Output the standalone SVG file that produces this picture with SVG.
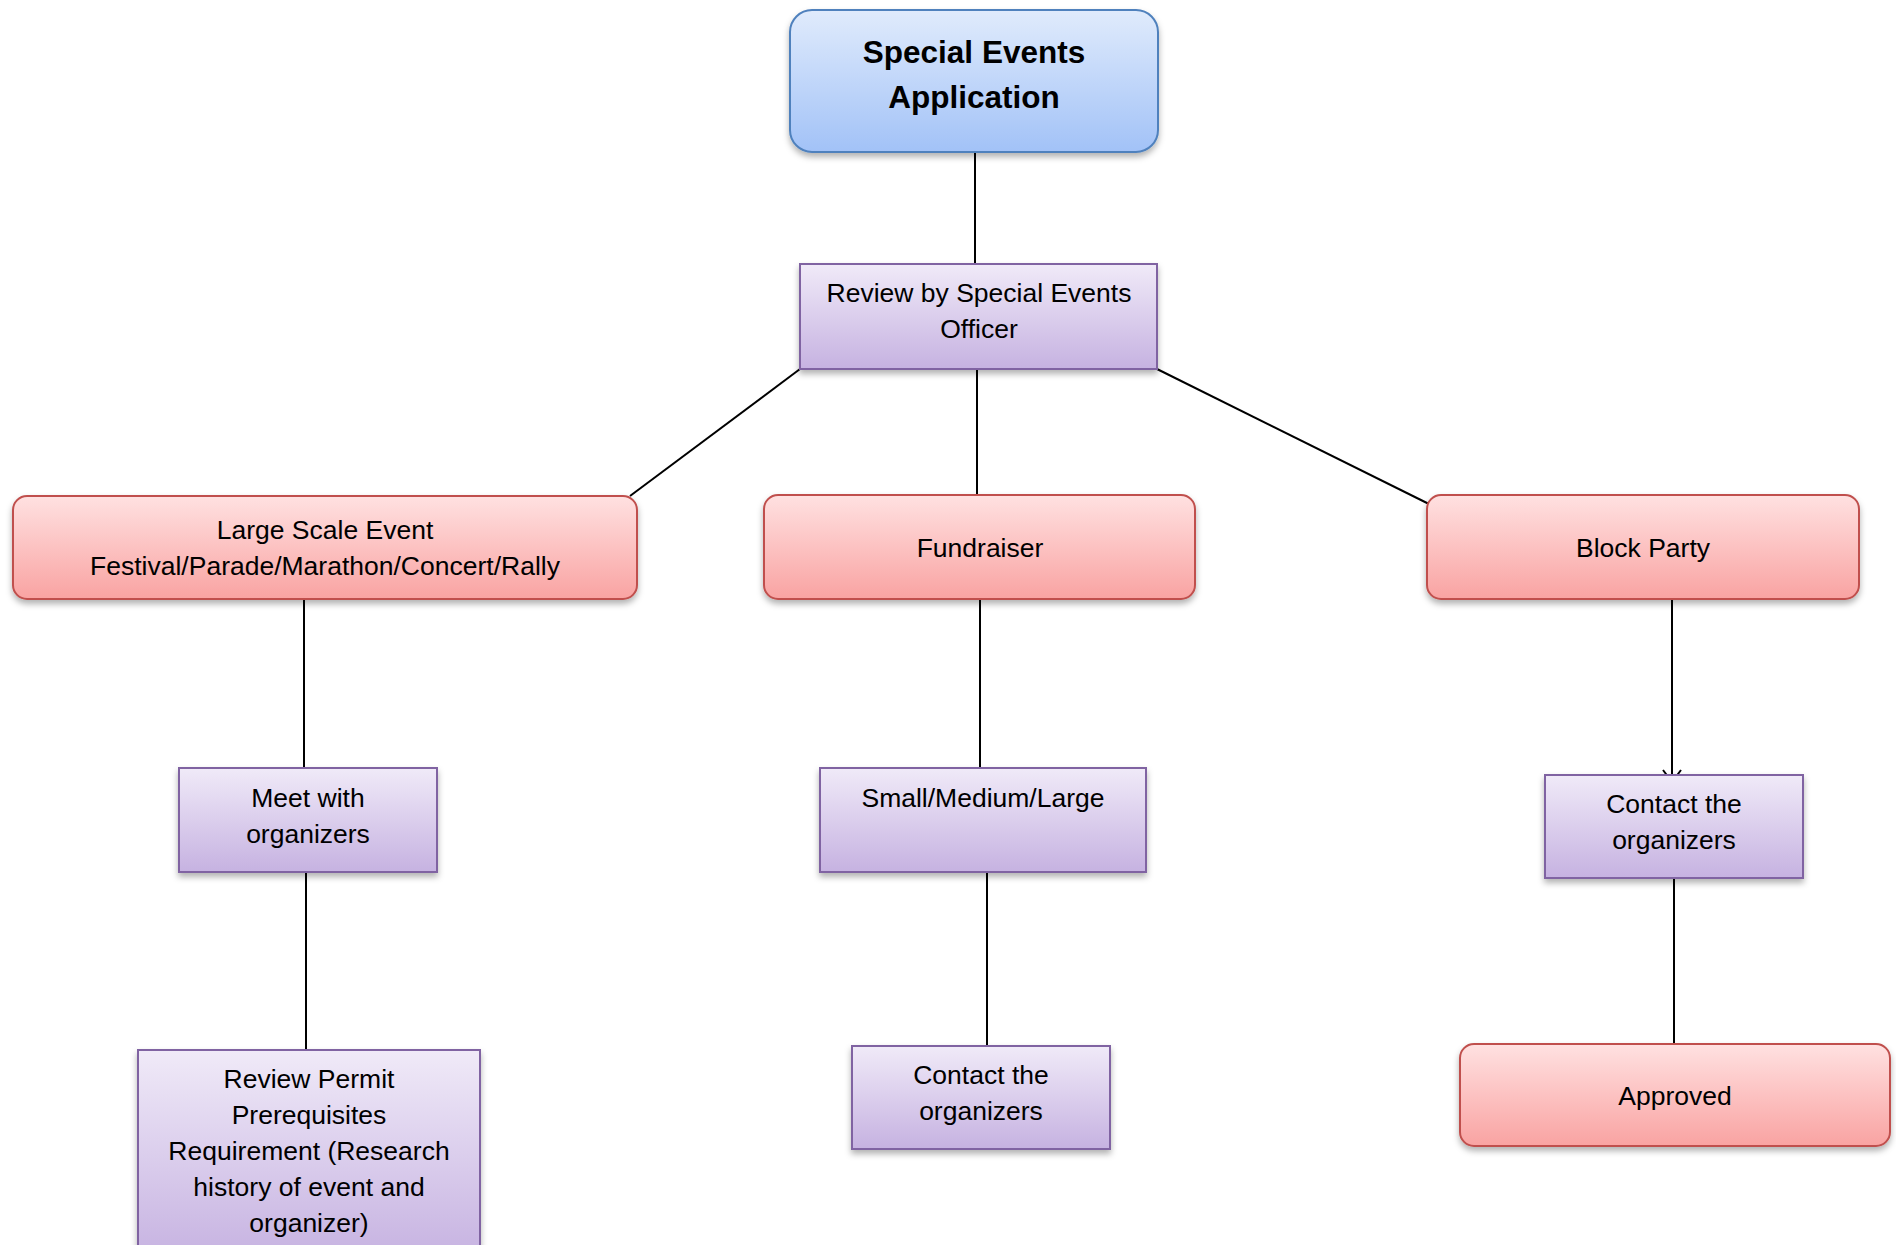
<svg xmlns="http://www.w3.org/2000/svg" width="1896" height="1245" viewBox="0 0 1896 1245">
<defs>
<linearGradient id="gBlue" x1="0" y1="0" x2="0" y2="1"><stop offset="0" stop-color="#e0ebfc"/><stop offset="1" stop-color="#a2c2f7"/></linearGradient>
<linearGradient id="gPurple" x1="0" y1="0" x2="0" y2="1"><stop offset="0" stop-color="#f0eaf8"/><stop offset="1" stop-color="#c6b2e1"/></linearGradient>
<linearGradient id="gRed" x1="0" y1="0" x2="0" y2="1"><stop offset="0" stop-color="#ffe1e1"/><stop offset="1" stop-color="#f9a3a2"/></linearGradient>
<filter id="sh" x="-10%" y="-10%" width="120%" height="130%"><feDropShadow dx="0" dy="4" stdDeviation="3" flood-color="#000" flood-opacity="0.3"/></filter>
</defs>
<style>
.t{font-family:"Liberation Sans",Arial,sans-serif;font-size:26.5px;fill:#000;text-anchor:middle}
.tb{font-family:"Liberation Sans",Arial,sans-serif;font-size:31.5px;font-weight:bold;fill:#000;text-anchor:middle}
.blue{fill:url(#gBlue);stroke:#4f81bd;stroke-width:2;filter:url(#sh)}
.pur{fill:url(#gPurple);stroke:#8064a2;stroke-width:2;filter:url(#sh)}
.red{fill:url(#gRed);stroke:#c0504d;stroke-width:2;filter:url(#sh)}
.c{stroke:#000;stroke-width:2;fill:none}
</style>
<rect width="1896" height="1245" fill="#fff"/>
<g id="connectors">
<line class="c" x1="975" y1="152" x2="975" y2="264"/>
<line class="c" x1="800" y1="369" x2="630" y2="496"/>
<line class="c" x1="977" y1="369" x2="977" y2="495"/>
<line class="c" x1="1157" y1="369" x2="1429" y2="504"/>
<line class="c" x1="304" y1="599" x2="304" y2="768"/>
<line class="c" x1="306" y1="872" x2="306" y2="1050"/>
<line class="c" x1="980" y1="599" x2="980" y2="768"/>
<line class="c" x1="987" y1="872" x2="987" y2="1046"/>
<line class="c" x1="1672" y1="599" x2="1672" y2="775"/>
<polyline class="c" stroke-width="1.5" points="1663,770 1672,782 1681,770"/>
<line class="c" x1="1674" y1="878" x2="1674" y2="1044"/>
</g>
<g id="n-app"><rect class="blue" x="790" y="10" width="368" height="142" rx="22"/><text class="tb" x="974" y="63">Special Events</text><text class="tb" x="974" y="108">Application</text></g>
<g id="n-review"><rect class="pur" x="800" y="264" width="357" height="105"/><text class="t" x="979" y="302">Review by Special Events</text><text class="t" x="979" y="338">Officer</text></g>
<g id="n-large"><rect class="red" x="13" y="496" width="624" height="103" rx="14"/><text class="t" x="325" y="539">Large Scale Event</text><text class="t" x="325" y="575">Festival/Parade/Marathon/Concert/Rally</text></g>
<g id="n-fund"><rect class="red" x="764" y="495" width="431" height="104" rx="14"/><text class="t" x="980" y="557">Fundraiser</text></g>
<g id="n-block"><rect class="red" x="1427" y="495" width="432" height="104" rx="14"/><text class="t" x="1643" y="557">Block Party</text></g>
<g id="n-meet"><rect class="pur" x="179" y="768" width="258" height="104"/><text class="t" x="308" y="807">Meet with</text><text class="t" x="308" y="843">organizers</text></g>
<g id="n-size"><rect class="pur" x="820" y="768" width="326" height="104"/><text class="t" x="983" y="807">Small/Medium/Large</text></g>
<g id="n-contact-b"><rect class="pur" x="1545" y="775" width="258" height="103"/><text class="t" x="1674" y="813">Contact the</text><text class="t" x="1674" y="849">organizers</text></g>
<g id="n-permit"><rect class="pur" x="138" y="1050" width="342" height="210"/><text class="t" x="309" y="1088">Review Permit</text><text class="t" x="309" y="1124">Prerequisites</text><text class="t" x="309" y="1160">Requirement (Research</text><text class="t" x="309" y="1196">history of event and</text><text class="t" x="309" y="1232">organizer)</text></g>
<g id="n-contact-f"><rect class="pur" x="852" y="1046" width="258" height="103"/><text class="t" x="981" y="1084">Contact the</text><text class="t" x="981" y="1120">organizers</text></g>
<g id="n-approved"><rect class="red" x="1460" y="1044" width="430" height="102" rx="14"/><text class="t" x="1675" y="1105">Approved</text></g>
</svg>
